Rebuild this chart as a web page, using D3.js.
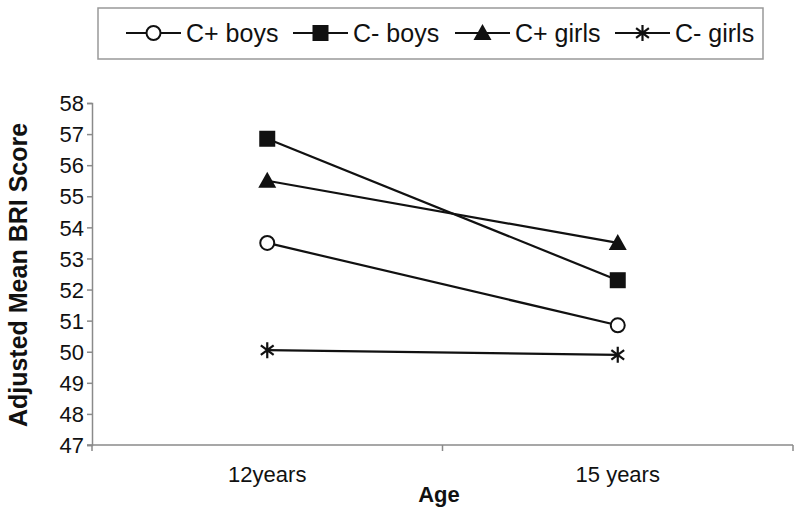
<!DOCTYPE html>
<html>
<head>
<meta charset="utf-8">
<script src="https://cdn.jsdelivr.net/npm/d3@7"></script>
<style>
  html, body { margin: 0; padding: 0; background: #fff; }
  svg { display: block; font-family: "Liberation Sans", Arial, sans-serif; }
</style>
</head>
<body>
<svg id="chart" width="800" height="515"></svg>
<script>
// ---- data ----
const ages = ["12years", "15 years"];
const seriesNames = ["C+ boys", "C- boys", "C+ girls", "C- girls"];
const seriesMarkers = ["circle", "square", "triangle", "star"];
const cPlusBoys = [53.5, 50.85];
const cMinusBoys = [56.85, 52.3];
const cPlusGirls = [55.5, 53.5];
const cMinusGirls = [50.05, 49.9];
const yTicks = [47, 48, 49, 50, 51, 52, 53, 54, 55, 56, 57, 58];

const seriesValues = [cPlusBoys, cMinusBoys, cPlusGirls, cMinusGirls];

const svg = d3.select("#chart");
const plotLeft = 92, plotRight = 793, plotTop = 103, plotBottom = 445;
const axisColor = "#8a8a8a";

const x = d3.scaleBand().domain(ages).range([plotLeft, plotRight]).padding(0);
const y = d3.scaleLinear().domain([47, 58]).range([plotBottom, plotTop]);

// y axis
const yAxis = svg.append("g")
  .attr("transform", `translate(${plotLeft},0)`)
  .call(d3.axisLeft(y).tickValues(yTicks).tickSize(5).tickPadding(3).tickFormat(d3.format("d")));
yAxis.select(".domain").attr("stroke", axisColor).attr("stroke-width", 1.5);
yAxis.selectAll(".tick line").attr("stroke", axisColor).attr("stroke-width", 1.5);
yAxis.selectAll(".tick text").attr("fill", "#111").style("font-size", "22px")
  .style("font-family", "'Liberation Sans', Arial, sans-serif").attr("dy", "0.35em");

// x axis line and ticks at band boundaries
svg.append("line").attr("x1", plotLeft - 5).attr("x2", plotRight).attr("y1", plotBottom).attr("y2", plotBottom)
  .attr("stroke", axisColor).attr("stroke-width", 1.5);
const boundaries = [x(ages[0]), x(ages[1]), x(ages[1]) + x.bandwidth()];
svg.selectAll(".xtick").data(boundaries).enter().append("line")
  .attr("x1", d => d).attr("x2", d => d).attr("y1", plotBottom).attr("y2", plotBottom + 6)
  .attr("stroke", axisColor).attr("stroke-width", 1.5);
svg.selectAll(".xlabel").data(ages).enter().append("text")
  .attr("x", d => x(d) + x.bandwidth() / 2)
  .attr("y", 482)
  .attr("text-anchor", "middle")
  .style("font-size", "22px").attr("fill", "#111")
  .text(d => d);

// axis titles
svg.append("text")
  .attr("x", 439).attr("y", 502).attr("text-anchor", "middle")
  .style("font-size", "22px").style("font-weight", "bold").attr("fill", "#111")
  .text("Age");
svg.append("text")
  .attr("transform", "translate(27,275) rotate(-90)")
  .attr("text-anchor", "middle")
  .style("font-size", "25px").style("font-weight", "bold").attr("fill", "#111")
  .text("Adjusted Mean BRI Score");

// marker drawing
function drawMarker(g, type, cx, cy) {
  if (type === "circle") {
    g.append("circle").attr("cx", cx).attr("cy", cy).attr("r", 7)
      .attr("fill", "#fff").attr("stroke", "#111").attr("stroke-width", 2);
  } else if (type === "square") {
    g.append("rect").attr("x", cx - 8).attr("y", cy - 8).attr("width", 16).attr("height", 16)
      .attr("fill", "#111");
  } else if (type === "triangle") {
    g.append("path").attr("d", `M${cx},${cy - 9}L${cx + 9},${cy + 7}L${cx - 9},${cy + 7}Z`)
      .attr("fill", "#111");
  } else if (type === "star") {
    const r = 8, d = r * 0.8;
    g.append("path")
      .attr("d", `M${cx},${cy - r}L${cx},${cy + r}M${cx - d},${cy - d * 0.75}L${cx + d},${cy + d * 0.75}M${cx - d},${cy + d * 0.75}L${cx + d},${cy - d * 0.75}`)
      .attr("stroke", "#111").attr("stroke-width", 2.2).attr("fill", "none");
  }
}

// series
const line = d3.line().x((d, i) => x(ages[i]) + x.bandwidth() / 2).y(d => y(d));
seriesValues.forEach((vals, si) => {
  const g = svg.append("g");
  g.append("path").datum(vals).attr("d", line)
    .attr("fill", "none").attr("stroke", "#111").attr("stroke-width", 2.2);
  vals.forEach((v, i) => drawMarker(g, seriesMarkers[si], x(ages[i]) + x.bandwidth() / 2, y(v)));
});

// legend
svg.append("rect").attr("x", 98).attr("y", 8).attr("width", 665).attr("height", 51)
  .attr("fill", "#fff").attr("stroke", "#999").attr("stroke-width", 1.5);
const legendX = [126, 293, 455, 615];
seriesNames.forEach((name, i) => {
  const g = svg.append("g");
  const lx = legendX[i];
  g.append("line").attr("x1", lx).attr("x2", lx + 55).attr("y1", 33).attr("y2", 33)
    .attr("stroke", "#111").attr("stroke-width", 2.2);
  drawMarker(g, seriesMarkers[i], lx + 27.5, 33);
  g.append("text").attr("x", lx + 60).attr("y", 42)
    .style("font-size", "25px").attr("fill", "#111").text(name);
});
</script>
</body>
</html>
